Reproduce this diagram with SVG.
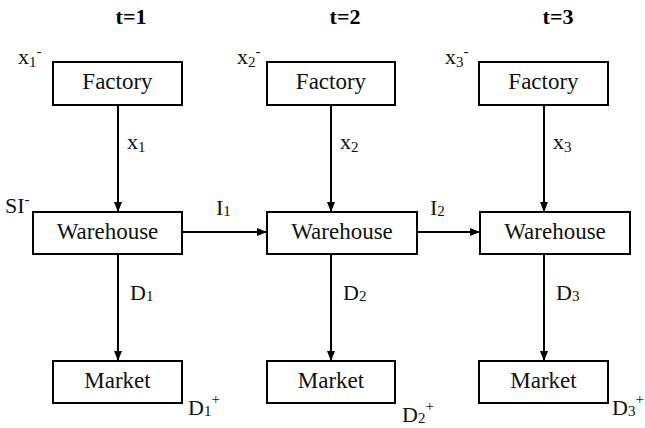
<svg xmlns="http://www.w3.org/2000/svg" width="645" height="428" viewBox="0 0 645 428">
  <style>
    .box { fill: #fff; stroke: #000; stroke-width: 2; }
    text { font-family: "Liberation Serif", Tinos, "Times New Roman", Times, "DejaVu Serif", serif; fill: #111; }
    .lbl { font-size: 22px; }
    .node { font-size: 23px; text-anchor: middle; }
    .hdr { font-size: 22px; font-weight: bold; fill: #000; text-anchor: middle; }
    .sub { font-size: 15px; }
    .wire { stroke: #000; stroke-width: 2; fill: none; marker-end: url(#arrow); }
  </style>
  <defs>
    <marker id="arrow" viewBox="0 0 10 8" refX="10" refY="4" markerWidth="10" markerHeight="8" markerUnits="userSpaceOnUse" orient="auto">
      <path d="M0,0 L10,4 L0,8 z" fill="#000"/>
    </marker>
  </defs>
  <rect width="645" height="428" fill="#fff"/>

  <!-- period headers -->
  <text class="hdr" x="131" y="24">t=1</text>
  <text class="hdr" x="345" y="24">t=2</text>
  <text class="hdr" x="558" y="24">t=3</text>

  <!-- connectors -->
  <g id="connectors">
    <line class="wire" x1="118" y1="105" x2="118" y2="212"/>
    <line class="wire" x1="331" y1="105" x2="331" y2="212"/>
    <line class="wire" x1="544" y1="105" x2="544" y2="212"/>
    <line class="wire" x1="118" y1="254" x2="118" y2="361"/>
    <line class="wire" x1="331" y1="254" x2="331" y2="361"/>
    <line class="wire" x1="544" y1="254" x2="544" y2="361"/>
    <line class="wire" x1="182" y1="232" x2="267" y2="232"/>
    <line class="wire" x1="417" y1="232" x2="480" y2="232"/>
    <text class="lbl" x="127" y="149">x<tspan class="sub" dy="3">1</tspan></text>
    <text class="lbl" x="340" y="149">x<tspan class="sub" dy="3">2</tspan></text>
    <text class="lbl" x="553" y="149">x<tspan class="sub" dy="3">3</tspan></text>
    <text class="lbl" x="130" y="300">D<tspan class="sub" dy="1">1</tspan></text>
    <text class="lbl" x="343" y="300">D<tspan class="sub" dy="1">2</tspan></text>
    <text class="lbl" x="556" y="300">D<tspan class="sub" dy="1">3</tspan></text>
    <text class="lbl" x="216" y="215">I<tspan class="sub" dy="1">1</tspan></text>
    <text class="lbl" x="430" y="215">I<tspan class="sub" dy="1">2</tspan></text>
  </g>

  <!-- period 1 -->
  <g id="factory1">
    <rect class="box" x="53" y="62" width="129" height="43"/>
    <text class="node" x="117.5" y="89">Factory</text>
    <text class="lbl" x="18" y="64">x<tspan class="sub" dy="3">1</tspan><tspan class="sub" dy="-11">-</tspan></text>
  </g>
  <g id="warehouse1">
    <rect class="box" x="33" y="212" width="149" height="42"/>
    <text class="node" x="107.5" y="239">Warehouse</text>
    <text class="lbl" x="5" y="213">SI<tspan class="sub" dy="-9">-</tspan></text>
  </g>
  <g id="market1">
    <rect class="box" x="53" y="361" width="129" height="42"/>
    <text class="node" x="117.5" y="388">Market</text>
    <text class="lbl" x="188" y="415">D<tspan class="sub" dy="1">1</tspan><tspan class="sub" dy="-12">+</tspan></text>
  </g>

  <!-- period 2 -->
  <g id="factory2">
    <rect class="box" x="267" y="62" width="128" height="43"/>
    <text class="node" x="331" y="89">Factory</text>
    <text class="lbl" x="237" y="64">x<tspan class="sub" dy="3">2</tspan><tspan class="sub" dy="-11">-</tspan></text>
  </g>
  <g id="warehouse2">
    <rect class="box" x="267" y="212" width="150" height="42"/>
    <text class="node" x="342" y="239">Warehouse</text>
  </g>
  <g id="market2">
    <rect class="box" x="267" y="361" width="128" height="42"/>
    <text class="node" x="331" y="388">Market</text>
    <text class="lbl" x="402" y="422">D<tspan class="sub" dy="1">2</tspan><tspan class="sub" dy="-12">+</tspan></text>
  </g>

  <!-- period 3 -->
  <g id="factory3">
    <rect class="box" x="479" y="62" width="129" height="43"/>
    <text class="node" x="543.5" y="89">Factory</text>
    <text class="lbl" x="445" y="64">x<tspan class="sub" dy="3">3</tspan><tspan class="sub" dy="-11">-</tspan></text>
  </g>
  <g id="warehouse3">
    <rect class="box" x="480" y="212" width="150" height="42"/>
    <text class="node" x="555" y="239">Warehouse</text>
  </g>
  <g id="market3">
    <rect class="box" x="479" y="361" width="129" height="42"/>
    <text class="node" x="543.5" y="388">Market</text>
    <text class="lbl" x="612" y="415">D<tspan class="sub" dy="1">3</tspan><tspan class="sub" dy="-12">+</tspan></text>
  </g>
</svg>
